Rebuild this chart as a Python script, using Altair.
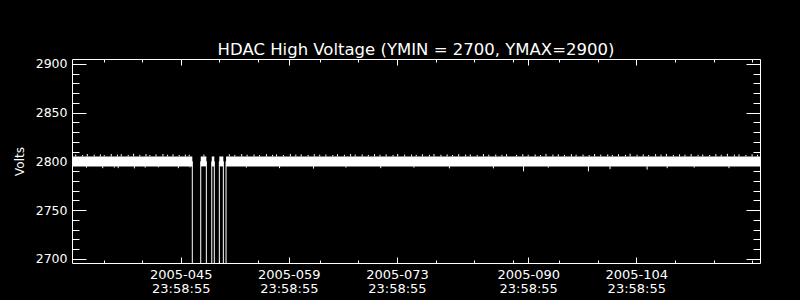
import altair as alt
import pandas as pd

# x coordinate: day of year 2005 (each labelled tick is 23:58:55 of that day)
x_domain = [30.92, 120.02]
y_domain = [2695.6, 2905.1]

major_days = [45, 59, 73, 90, 104]
minor_days = [35, 40, 50, 55, 63, 68, 78, 83, 88, 94, 99, 109, 114, 119]
y_major = [2700, 2750, 2800, 2850, 2900]
y_minor = [2700, 2710, 2720, 2730, 2740, 2750, 2760, 2770, 2780, 2790, 2800,
           2810, 2820, 2830, 2840, 2850, 2860, 2870, 2880, 2890, 2900]

# dense noise band of the HV readings (segments between drop-outs)
seg_start = [30.92, 47.59, 49.02, 50.00, 50.87]
seg_end = [46.50, 48.32, 49.35, 50.52, 120.02]
seg_low = [2794.8, 2794.8, 2794.8, 2794.8, 2794.8]
seg_high = [2805.0, 2805.0, 2805.0, 2805.0, 2805.0]

# drop-outs: HV off (0 V) at segment boundaries
drop_days = [46.50, 47.59, 48.32, 49.02, 49.35, 50.00, 50.52, 50.87]
drop_from = [2800, 2800, 2800, 2800, 2800, 2800, 2800, 2800]
drop_to = [0, 0, 0, 0, 0, 0, 0, 0]

# upward excursions above the band (day, volts)
up_spikes = [
    (31.4, 2807.0), (32.3, 2806.5), (32.9, 2807.5), (33.8, 2806.8), (34.6, 2807.2),
    (35.1, 2806.4), (36.0, 2807.6), (36.8, 2806.9), (37.3, 2807.3), (38.2, 2806.6),
    (38.9, 2807.8), (39.7, 2806.7), (40.5, 2807.4), (41.0, 2806.5), (41.8, 2807.1),
    (42.7, 2807.6), (43.3, 2806.8), (44.0, 2807.3), (44.8, 2806.6), (45.6, 2807.0),
    (46.1, 2806.8), (48.0, 2806.9), (51.3, 2807.2), (52.0, 2806.6), (52.9, 2807.5),
    (53.6, 2806.8), (54.5, 2807.0), (55.2, 2806.4), (56.1, 2807.4), (56.9, 2806.7),
    (57.4, 2807.1), (58.3, 2806.5), (59.2, 2807.6), (59.9, 2806.9), (60.6, 2807.2),
    (61.5, 2806.6), (62.3, 2807.4), (63.0, 2806.8), (63.8, 2807.0), (64.7, 2806.5),
    (65.3, 2807.3), (66.2, 2806.7), (67.0, 2807.5), (67.6, 2806.9), (68.5, 2807.1),
    (69.3, 2806.6), (70.1, 2807.4), (70.8, 2806.8), (71.6, 2807.2), (72.5, 2806.5),
    (73.1, 2807.6), (74.0, 2806.9), (74.9, 2807.0), (75.5, 2806.6), (76.3, 2807.3),
    (77.2, 2806.7), (77.8, 2807.5), (78.7, 2806.8), (79.5, 2807.1), (80.2, 2806.5),
    (81.0, 2807.4), (81.9, 2806.9), (82.5, 2807.2), (83.4, 2806.6), (84.2, 2807.5),
    (84.9, 2806.8), (85.8, 2807.0), (86.6, 2806.7), (87.2, 2807.3), (88.5, 2806.6),
    (89.3, 2807.4), (90.0, 2806.8), (90.9, 2807.1), (91.6, 2806.5), (92.3, 2807.6),
    (93.2, 2806.9), (93.9, 2807.2), (94.7, 2806.6), (95.6, 2807.4), (96.2, 2806.8),
    (97.1, 2807.0), (97.9, 2806.5), (98.6, 2807.5), (99.4, 2806.9), (100.3, 2807.2),
    (100.9, 2806.6), (101.7, 2807.3), (102.6, 2806.7), (103.2, 2807.8), (104.1, 2806.8),
    (104.9, 2807.1), (105.6, 2806.5), (106.5, 2807.4), (107.2, 2806.9), (107.9, 2807.6),
    (108.8, 2806.6), (109.6, 2807.2), (110.3, 2806.8), (111.1, 2807.5), (112.0, 2806.7),
    (112.6, 2807.0), (113.5, 2806.5), (114.3, 2807.4), (115.0, 2806.8), (115.8, 2807.7),
    (116.7, 2806.9), (117.3, 2807.2), (118.2, 2806.6), (119.0, 2807.3), (119.7, 2806.8),
]

# downward excursions below the band (day, volts)
down_spikes = [
    (32.8, 2793.5), (34.9, 2793.0), (36.4, 2793.5), (36.9, 2793.0), (39.0, 2792.8),
    (40.4, 2793.5), (42.1, 2793.8), (44.7, 2793.0), (46.2, 2793.8), (53.5, 2793.5),
    (57.8, 2793.0), (62.2, 2792.5), (66.4, 2793.5), (70.9, 2793.0), (75.2, 2793.5),
    (79.8, 2792.8), (85.5, 2792.8), (89.4, 2789.7), (92.6, 2793.5), (97.8, 2789.7),
    (100.6, 2792.0), (105.4, 2791.5), (108.0, 2793.0), (111.5, 2793.5), (116.0, 2793.0),
]

band_df = pd.DataFrame({"start": seg_start, "end": seg_end, "low": seg_low, "high": seg_high})
drop_df = pd.DataFrame({"day": drop_days, "v1": drop_from, "v2": drop_to})
up_df = pd.DataFrame({"day": [d for d, _ in up_spikes], "v1": [2805.0] * len(up_spikes),
                      "v2": [v for _, v in up_spikes]})
down_df = pd.DataFrame({"day": [d for d, _ in down_spikes], "v1": [2795.0] * len(down_spikes),
                        "v2": [v for _, v in down_spikes]})

FONT = "DejaVu Sans"
xs = alt.Scale(domain=x_domain, nice=False, zero=False)
ys = alt.Scale(domain=y_domain, nice=False, zero=False)

base_axis = dict(domain=False, grid=False, tickColor="white", tickWidth=1,
                 labelColor="white", titleColor="white", labelFont=FONT, titleFont=FONT)

x_bottom_major = alt.Axis(orient="bottom", values=major_days, tickSize=6, offset=-6,
                          labelExpr="['2005-' + format(datum.value, '03d'), '23:58:55']",
                          labelFontSize=13, labelBaseline="alphabetic", labelPadding=15,
                          labelLineHeight=14, labelOverlap=False, labelFlush=False,
                          labelBound=False, labelAlign="center", title=None, **base_axis)
x_bottom_minor = alt.Axis(orient="bottom", values=minor_days, tickSize=3, offset=-3,
                          labels=False, title=None, **base_axis)
x_top_major = alt.Axis(orient="top", values=major_days, tickSize=6, offset=-6,
                       labels=False, title=None, **base_axis)
x_top_minor = alt.Axis(orient="top", values=minor_days, tickSize=3, offset=-3,
                       labels=False, title=None, **base_axis)

y_left_major = alt.Axis(orient="left", values=y_major, tickSize=14, offset=-14, format="d",
                        labelFontSize=12.5, labelPadding=5, labelBaseline="middle",
                        labelOverlap=False, labelFlush=False,
                        title="Volts", titleAngle=-90, titleX=-63, titleY=102,
                        titleAlign="center", titleBaseline="alphabetic",
                        titleFontSize=12, titleFontWeight="normal", **base_axis)
y_left_minor = alt.Axis(orient="left", values=y_minor, tickSize=7, offset=-7,
                        labels=False, title=None, **base_axis)
y_right_major = alt.Axis(orient="right", values=y_major, tickSize=14, offset=-14,
                         labels=False, title=None, **base_axis)
y_right_minor = alt.Axis(orient="right", values=y_minor, tickSize=7, offset=-7,
                         labels=False, title=None, **base_axis)

band = alt.Chart(band_df).mark_rect(color="white").encode(
    x=alt.X("start:Q", scale=xs, axis=x_bottom_major),
    x2="end:Q",
    y=alt.Y("low:Q", scale=ys, axis=y_left_major),
    y2="high:Q",
)

up = alt.Chart(up_df).mark_rule(color="white", strokeWidth=1).encode(
    x=alt.X("day:Q", scale=xs, axis=x_bottom_minor),
    y=alt.Y("v1:Q", scale=ys, axis=y_left_minor),
    y2="v2:Q",
)

down = alt.Chart(down_df).mark_rule(color="white", strokeWidth=1).encode(
    x=alt.X("day:Q", scale=xs, axis=x_top_major),
    y=alt.Y("v1:Q", scale=ys, axis=y_right_major),
    y2="v2:Q",
)

drops = alt.Chart(drop_df).mark_rule(color="white", strokeWidth=1, clip=True).encode(
    x=alt.X("day:Q", scale=xs, axis=x_top_minor),
    y=alt.Y("v1:Q", scale=ys, axis=y_right_minor),
    y2="v2:Q",
)

chart = alt.layer(band, up, down, drops).resolve_axis(
    x="independent", y="independent"
).properties(
    width=688,
    height=204,
    title=alt.TitleParams("HDAC High Voltage (YMIN = 2700, YMAX=2900)", color="white",
                          font=FONT, fontSize=16.5, fontWeight="normal", anchor="middle",
                          baseline="alphabetic", offset=-14),
    autosize=alt.AutoSizeParams(type="none"),
    padding={"left": 72, "top": 59, "right": 40, "bottom": 37},
    background="black",
).configure_view(stroke="white", strokeWidth=1)

chart.save("out.html", embed_options={"renderer": "svg", "actions": False})
